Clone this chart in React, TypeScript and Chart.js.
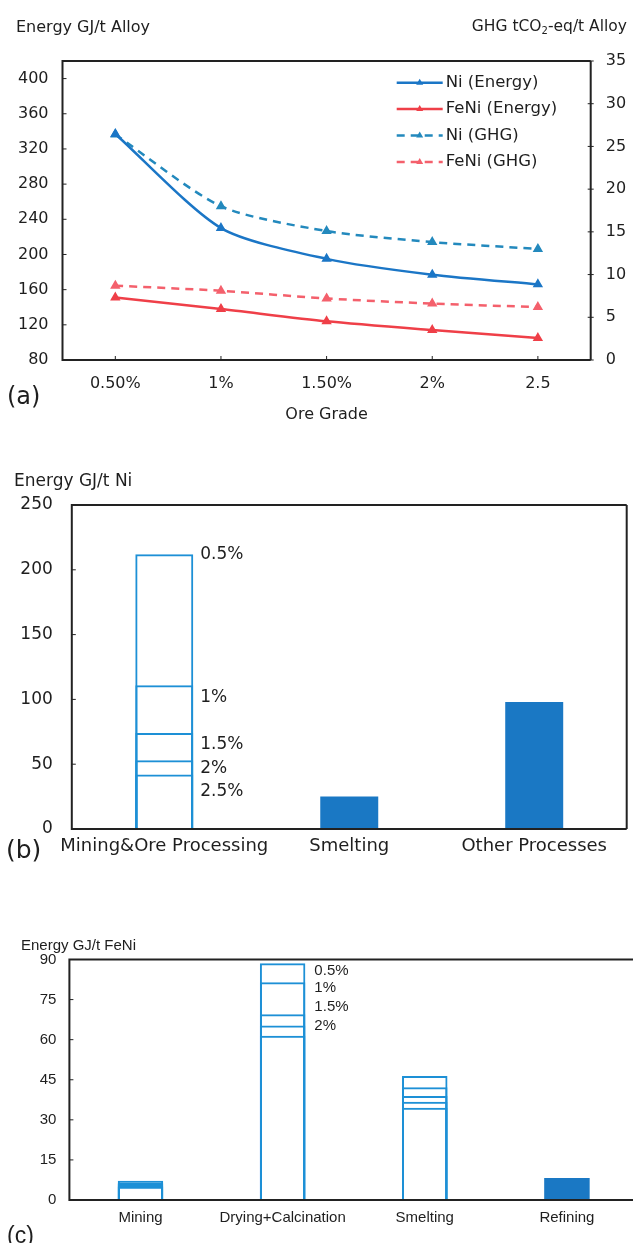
import React, { useEffect, useRef } from "react";
import { Chart, registerables } from "chart.js";
Chart.register(...registerables);

// ---------- Panel (a) data ----------
const gradesA = ["0.50%", "1%", "1.50%", "2%", "2.5"];
const niEnergy = [337, 230, 195, 177, 166];
const feniEnergy = [151, 138, 124, 114, 105];
const niGhg = [26.4, 18.0, 15.1, 13.8, 13.0];
const feniGhg = [8.7, 8.1, 7.2, 6.6, 6.2];
const energyTicksA = [80, 120, 160, 200, 240, 280, 320, 360, 400];
const seriesNamesA = ["Ni (Energy)", "FeNi (Energy)", "Ni (GHG)", "FeNi (GHG)"];

// ---------- Panel (b) data ----------
const processesB = ["Mining&Ore Processing", "Smelting", "Other Processes"];
const gradeLabelsB = ["0.5%", "1%", "1.5%", "2%", "2.5%"];
const miningOreB = [212, 111, 74, 53, 42];
const smeltingB = 25;
const otherB = 98;

// ---------- Panel (c) data ----------
const processesC = ["Mining", "Drying+Calcination", "Smelting", "Refining"];
const gradeLabelsC = ["0.5%", "1%", "1.5%", "2%", "2.5%"];
const miningC = [7.2, 6.5, 6.0, 5.4, 5.0];
const dryingC = [88.6, 81.5, 69.5, 65.3, 61.5];
const smeltingC = [46.4, 42.2, 38.9, 36.8, 34.5];
const refiningC = 8.2;
const shownLabelsC = ["0.5%", "1%", "1.5%", "2%"];

const TXT = "#1e1e1e";
const FRAME = "#222";
const BLUE = "#1b76c6";
const BLUE_GHG = "#2389bd";
const RED = "#ef3f48";
const RED_GHG = "#f4606c";
const OUTLINE = "#1d90d6";
const FILL = "#1a78c4";
const DJ = "'DejaVu Sans', sans-serif";
const LIB = "'Liberation Sans', Arial, sans-serif";

function framePlugin(sides: { top: boolean; right: boolean; bottom: boolean; left: boolean }, lw: number, ticks: Array<{ axis: string; side: string; len: number }>) {
  return {
    id: "frame",
    afterDatasetsDraw(chart: any) {
      const { ctx, chartArea: a } = chart;
      ctx.save();
      ctx.strokeStyle = FRAME;
      ctx.lineWidth = lw;
      ctx.beginPath();
      if (sides.top) { ctx.moveTo(a.left, a.top); ctx.lineTo(a.right, a.top); }
      if (sides.right) { ctx.moveTo(a.right, a.top); ctx.lineTo(a.right, a.bottom); }
      if (sides.bottom) { ctx.moveTo(a.left - lw / 2, a.bottom); ctx.lineTo(a.right, a.bottom); }
      if (sides.left) { ctx.moveTo(a.left, a.top - lw / 2); ctx.lineTo(a.left, a.bottom + lw / 2); }
      ctx.stroke();
      ctx.lineWidth = 1;
      ctx.beginPath();
      for (const t of ticks) {
        const sc = chart.scales[t.axis];
        if (!sc) continue;
        const n = sc.ticks.length;
        for (let i = 0; i < n; i++) {
          const p = sc.getPixelForTick(i);
          if (t.side === "left") { ctx.moveTo(a.left, p); ctx.lineTo(a.left + t.len, p); }
          if (t.side === "right") { ctx.moveTo(a.right - t.len, p); ctx.lineTo(a.right + t.len, p); }
          if (t.side === "bottom") { ctx.moveTo(p, a.bottom); ctx.lineTo(p, a.bottom - t.len); }
        }
      }
      ctx.stroke();
      ctx.restore();
    },
  };
}

const legendPluginA = {
  id: "legendA",
  afterDatasetsDraw(chart: any) {
    const { ctx, chartArea: a } = chart;
    ctx.save();
    chart.data.datasets.forEach((ds: any, i: number) => {
      const y = a.top + 21.7 + i * 26.4;
      const x0 = a.right - 194;
      const x1 = a.right - 148;
      ctx.strokeStyle = ds.borderColor;
      ctx.lineWidth = 2.5;
      ctx.setLineDash(ds.borderDash || []);
      ctx.beginPath();
      ctx.moveTo(x0, y);
      ctx.lineTo(x1, y);
      ctx.stroke();
      ctx.setLineDash([]);
      const mx = (x0 + x1) / 2;
      ctx.fillStyle = ds.borderColor;
      ctx.beginPath();
      ctx.moveTo(mx, y - 4);
      ctx.lineTo(mx + 3.5, y + 2);
      ctx.lineTo(mx - 3.5, y + 2);
      ctx.closePath();
      ctx.fill();
      ctx.fillStyle = TXT;
      ctx.font = "16.5px " + DJ;
      ctx.textAlign = "left";
      ctx.textBaseline = "middle";
      ctx.fillText(ds.label, x1 + 3, y);
    });
    ctx.restore();
  },
};

function gradeLabelPlugin(id: string, labels: string[], barIndex: number, offsets: number[], font: string, gap: number) {
  return {
    id,
    afterDatasetsDraw(chart: any) {
      const { ctx } = chart;
      ctx.save();
      ctx.fillStyle = TXT;
      ctx.font = font;
      ctx.textAlign = "left";
      ctx.textBaseline = "middle";
      labels.forEach((lab, i) => {
        const el = chart.getDatasetMeta(i).data[barIndex];
        if (!el) return;
        ctx.fillText(lab, el.x + el.width / 2 + gap, el.y + offsets[i]);
      });
      ctx.restore();
    },
  };
}

export default function App() {
  const refA = useRef<HTMLCanvasElement>(null);
  const refB = useRef<HTMLCanvasElement>(null);
  const refC = useRef<HTMLCanvasElement>(null);

  useEffect(() => {
    const charts: Chart[] = [];

    // ---------------- Panel (a) ----------------
    const pt = { pointStyle: "triangle", pointRadius: 3.5, pointHoverRadius: 3.5, borderWidth: 2.5, tension: 0.25 };
    charts.push(
      new Chart(refA.current as HTMLCanvasElement, {
        type: "line",
        data: {
          labels: gradesA,
          datasets: [
            { label: seriesNamesA[0], data: niEnergy, borderColor: BLUE, backgroundColor: BLUE, yAxisID: "y", ...pt },
            { label: seriesNamesA[1], data: feniEnergy, borderColor: RED, backgroundColor: RED, yAxisID: "y", ...pt },
            { label: seriesNamesA[2], data: niGhg, borderColor: BLUE_GHG, backgroundColor: BLUE_GHG, yAxisID: "y1", borderDash: [8, 6], ...pt },
            { label: seriesNamesA[3], data: feniGhg, borderColor: RED_GHG, backgroundColor: RED_GHG, yAxisID: "y1", borderDash: [8, 6], ...pt },
          ],
        } as any,
        options: {
          animation: false,
          responsive: false,
          maintainAspectRatio: false,
          devicePixelRatio: 1,
          layout: { padding: { top: 61, left: 0, right: 0, bottom: 0 } },
          plugins: { legend: { display: false }, tooltip: { enabled: false } },
          scales: {
            x: {
              type: "category",
              offset: true,
              grid: { display: false, drawTicks: false },
              border: { display: false },
              ticks: { font: { family: DJ, size: 16 }, color: TXT, padding: 14, autoSkip: false, maxRotation: 0 },
              title: { display: true, text: "Ore Grade", font: { family: DJ, size: 16 }, color: TXT, padding: { top: 4, bottom: 6 } },
              afterFit: (s: any) => { s.height = 70; },
            },
            y: {
              position: "left",
              min: 80,
              max: 420,
              grid: { display: false, drawTicks: false },
              border: { display: false },
              ticks: { font: { family: DJ, size: 16 }, color: TXT, padding: 14 },
              afterBuildTicks: (s: any) => { s.ticks = energyTicksA.map((v) => ({ value: v })); },
              afterFit: (s: any) => { s.width = 62.5; },
            },
            y1: {
              position: "right",
              min: 0,
              max: 35,
              grid: { display: false, drawTicks: false },
              border: { display: false },
              ticks: { stepSize: 5, font: { family: DJ, size: 16 }, color: TXT, padding: 15 },
              afterFit: (s: any) => { s.width = 42.3; },
            },
          },
        } as any,
        plugins: [
          framePlugin({ top: true, right: true, bottom: true, left: true }, 2, [
            { axis: "y", side: "left", len: 4 },
            { axis: "y1", side: "right", len: 3 },
            { axis: "x", side: "bottom", len: 4 },
          ]),
          legendPluginA,
        ],
      })
    );

    // ---------------- Panel (b) ----------------
    const dsB: any[] = gradeLabelsB.map((g, i) => ({
      label: g,
      data: [miningOreB[i], null, null],
      backgroundColor: "rgba(0,0,0,0)",
      borderColor: OUTLINE,
      borderWidth: 2,
      grouped: false,
      barPercentage: 0.3135,
      categoryPercentage: 1,
    }));
    dsB.push({
      label: "filled",
      data: [null, smeltingB, otherB],
      backgroundColor: FILL,
      borderWidth: 0,
      grouped: false,
      barPercentage: 0.3135,
      categoryPercentage: 1,
    });
    charts.push(
      new Chart(refB.current as HTMLCanvasElement, {
        type: "bar",
        data: { labels: processesB, datasets: dsB },
        options: {
          animation: false,
          responsive: false,
          maintainAspectRatio: false,
          devicePixelRatio: 1,
          layout: { padding: { top: 65, left: 0, right: 6.3, bottom: 0 } },
          plugins: { legend: { display: false }, tooltip: { enabled: false } },
          scales: {
            x: {
              grid: { display: false, drawTicks: false },
              border: { display: false },
              ticks: { font: { family: DJ, size: 18 }, color: TXT, padding: 7, autoSkip: false, maxRotation: 0 },
              afterFit: (s: any) => { s.height = 46; },
            },
            y: {
              min: 0,
              max: 250,
              grid: { display: false, drawTicks: false },
              border: { display: false },
              ticks: { stepSize: 50, font: { family: DJ, size: 17 }, color: TXT, padding: 19 },
              afterFit: (s: any) => { s.width = 71.8; },
            },
          },
        } as any,
        plugins: [
          framePlugin({ top: true, right: true, bottom: true, left: true }, 2, [{ axis: "y", side: "left", len: 4 }]),
          gradeLabelPlugin("labB", gradeLabelsB, 0, [0, 12, 11, 8, 17], "17px " + DJ, 7),
        ],
      })
    );

    // ---------------- Panel (c) ----------------
    const dsC: any[] = gradeLabelsC.map((g, i) => ({
      label: g,
      data: [miningC[i], dryingC[i], smeltingC[i], null],
      backgroundColor: "rgba(0,0,0,0)",
      borderColor: OUTLINE,
      borderWidth: 2,
      grouped: false,
      barPercentage: 0.32,
      categoryPercentage: 1,
    }));
    dsC.push({
      label: "filled",
      data: [null, null, null, refiningC],
      backgroundColor: FILL,
      borderWidth: 0,
      grouped: false,
      barPercentage: 0.32,
      categoryPercentage: 1,
    });
    charts.push(
      new Chart(refC.current as HTMLCanvasElement, {
        type: "bar",
        data: { labels: processesC, datasets: dsC },
        options: {
          animation: false,
          responsive: false,
          maintainAspectRatio: false,
          devicePixelRatio: 1,
          layout: { padding: { top: 74.5, left: 0, right: 7, bottom: 0 } },
          plugins: { legend: { display: false }, tooltip: { enabled: false } },
          scales: {
            x: {
              grid: { display: false, drawTicks: false },
              border: { display: false },
              ticks: { font: { family: LIB, size: 15 }, color: TXT, padding: 9, autoSkip: false, maxRotation: 0 },
              afterFit: (s: any) => { s.height = 43; },
            },
            y: {
              min: 0,
              max: 90,
              grid: { display: false, drawTicks: false },
              border: { display: false },
              ticks: { stepSize: 15, font: { family: LIB, size: 15 }, color: TXT, padding: 13 },
              afterFit: (s: any) => { s.width = 69.4; },
            },
          },
        } as any,
        plugins: [
          framePlugin({ top: true, right: false, bottom: true, left: true }, 2, [{ axis: "y", side: "left", len: 4 }]),
          gradeLabelPlugin("labC", shownLabelsC, 1, [8, 6, -7, 0], "15px " + LIB, 9),
        ],
      })
    );

    return () => charts.forEach((c) => c.destroy());
  }, []);

  const txt = (s: React.CSSProperties): React.CSSProperties => ({
    position: "absolute",
    color: TXT,
    whiteSpace: "nowrap",
    lineHeight: 1,
    transform: "translateY(-50%)",
    ...s,
  });

  return (
    <div style={{ position: "absolute", left: 0, top: 0, width: 633, height: 1243, overflow: "hidden", background: "#fff", fontFamily: DJ }}>
      <canvas ref={refA} width={633} height={430} style={{ position: "absolute", left: 0, top: 0, width: 633, height: 430 }} />
      <canvas ref={refB} width={633} height={435} style={{ position: "absolute", left: 0, top: 440, width: 633, height: 435 }} />
      <canvas ref={refC} width={645} height={358} style={{ position: "absolute", left: 0, top: 885, width: 645, height: 358 }} />

      <div style={txt({ left: 16, top: 27, fontSize: 16 })}>Energy GJ/t Alloy</div>
      <div style={txt({ right: 6, top: 27, fontSize: 15.5 })}>
        GHG tCO<sub style={{ fontSize: 10, verticalAlign: "-3px", lineHeight: 0 }}>2</sub>-eq/t Alloy
      </div>
      <div style={txt({ left: 7, top: 396, fontSize: 24 })}>(a)</div>

      <div style={txt({ left: 14, top: 480, fontSize: 17 })}>Energy GJ/t Ni</div>
      <div style={txt({ left: 6, top: 849, fontSize: 25 })}>(b)</div>

      <div style={txt({ left: 21, top: 944, fontSize: 15, fontFamily: LIB })}>Energy GJ/t FeNi</div>
      <div style={txt({ left: 7, top: 1235, fontSize: 23, fontFamily: LIB })}>(c)</div>
    </div>
  );
}
